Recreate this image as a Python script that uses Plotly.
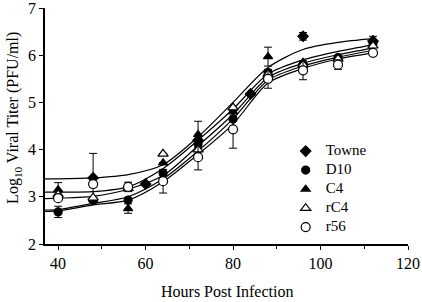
import plotly.graph_objects as go

# ---- data ----
series_names = ["Towne", "D10", "C4", "rC4", "r56"]

towne_t = [48, 60, 72, 84, 96, 112]
towne_y = [3.40, 3.27, 4.20, 5.18, 6.40, 6.30]
towne_e = [0.52, 0.0, 0.0, 0.0, 0.08, 0.0]

d10_t = [40, 48, 56, 64, 72, 80, 88, 96, 104, 112]
d10_y = [2.68, 2.92, 2.93, 3.50, 4.12, 4.65, 5.63, 5.78, 5.95, 6.25]
d10_e = [0.12, 0.0, 0.0, 0.0, 0.0, 0.0, 0.0, 0.0, 0.0, 0.0]

c4_t = [40, 48, 56, 64, 72, 80, 88, 96, 104, 112]
c4_y = [3.15, 2.95, 2.75, 3.72, 4.32, 4.80, 5.97, 5.85, 5.95, 6.32]
c4_e = [0.15, 0.0, 0.10, 0.0, 0.28, 0.0, 0.20, 0.0, 0.0, 0.08]

rc4_t = [40, 48, 56, 64, 72, 80, 88, 96, 104, 112]
rc4_y = [3.05, 2.98, 3.18, 3.91, 4.00, 4.89, 5.60, 5.80, 5.92, 6.20]
rc4_e = [0.0] * 10

r56_t = [40, 48, 56, 64, 72, 80, 88, 96, 104, 112]
r56_y = [2.97, 3.27, 3.21, 3.33, 3.84, 4.43, 5.50, 5.68, 5.80, 6.05]
r56_e = [0.0, 0.0, 0.10, 0.25, 0.27, 0.40, 0.20, 0.20, 0.10, 0.0]

# fitted curves at these hours
curve_t = [37, 40, 48, 56, 64, 72, 80, 88, 96, 104, 112]
curve_a = [3.38, 3.38, 3.40, 3.47, 3.68, 4.27, 5.00, 5.74, 6.12, 6.27, 6.35]
curve_b = [3.10, 3.10, 3.11, 3.21, 3.60, 4.20, 4.86, 5.60, 5.90, 6.08, 6.22]
curve_c = [2.96, 2.97, 3.01, 3.16, 3.45, 4.08, 4.75, 5.53, 5.83, 6.01, 6.15]
curve_d = [2.72, 2.73, 2.86, 3.00, 3.38, 3.97, 4.65, 5.47, 5.77, 5.96, 6.10]
curve_e = [2.69, 2.70, 2.83, 2.93, 3.32, 3.90, 4.54, 5.41, 5.72, 5.92, 6.05]

x_ticks = [40, 60, 80, 100, 120]
y_ticks = [2, 3, 4, 5, 6, 7]

FONT = "Liberation Serif"

fig = go.Figure()

for cy in [curve_a, curve_b, curve_c, curve_d, curve_e]:
    fig.add_trace(go.Scatter(
        x=curve_t, y=cy, mode="lines",
        line=dict(color="black", width=1.2, shape="spline", smoothing=0.8),
        showlegend=False, hoverinfo="skip"))

styles = {
    "Towne": dict(symbol="diamond", size=8, color="black"),
    "D10": dict(symbol="circle", size=8, color="black"),
    "C4": dict(symbol="triangle-up", size=8, color="black"),
    "rC4": dict(symbol="triangle-up", size=9, color="white"),
    "r56": dict(symbol="circle", size=9, color="white"),
}
data = {
    "Towne": (towne_t, towne_y, towne_e),
    "D10": (d10_t, d10_y, d10_e),
    "C4": (c4_t, c4_y, c4_e),
    "rC4": (rc4_t, rc4_y, rc4_e),
    "r56": (r56_t, r56_y, r56_e),
}

for name in series_names:
    t, y, e = data[name]
    st = styles[name]
    fig.add_trace(go.Scatter(
        x=t, y=y, mode="markers",
        name='<span style="font-size:15px">' + name + '</span>',
        marker=dict(symbol=st["symbol"], size=st["size"], color=st["color"],
                    line=dict(color="black", width=1.2)),
        error_y=dict(type="data", array=e, visible=True, color="black",
                     thickness=1, width=4),
    ))

fig.update_layout(
    width=422, height=302,
    margin=dict(l=45, r=14, t=8, b=58),
    paper_bgcolor="white", plot_bgcolor="white",
    font=dict(family=FONT, size=16, color="black"),
    legend=dict(x=0.663, y=0.455, xanchor="left", yanchor="top",
                bgcolor="rgba(0,0,0,0)", borderwidth=0,
                font=dict(family=FONT, size=10.5, color="black"),
                tracegroupgap=0, itemwidth=30),
    showlegend=True,
    annotations=[
        dict(text="Log<sub>10</sub> Viral Titer (PFU/ml)", textangle=-90,
             xref="paper", yref="paper", x=-0.085, y=0.535,
             xanchor="center", yanchor="middle",
             showarrow=False, font=dict(family=FONT, size=16, color="black")),
        dict(text="Hours Post Infection",
             xref="paper", yref="paper", x=0.5, y=-0.2,
             xanchor="center", yanchor="middle",
             showarrow=False, font=dict(family=FONT, size=16, color="black")),
    ],
)

fig.update_xaxes(
    range=[37, 120], tickvals=x_ticks, ticktext=[str(v) for v in x_ticks],
    showgrid=False, zeroline=False, showline=True, linecolor="black",
    linewidth=1.5, ticks="outside", ticklen=4, tickwidth=1, tickcolor="black",
    minor=dict(ticks="outside", ticklen=3, dtick=10, tick0=40, tickcolor="black"),
    tickfont=dict(family=FONT, size=16, color="black"), automargin=False,
    ticklabeloverflow="allow",
)
fig.update_yaxes(
    range=[2, 7], tickvals=y_ticks, ticktext=[str(v) for v in y_ticks],
    showgrid=False, zeroline=False, showline=True, linecolor="black",
    linewidth=1.5, ticks="outside", ticklen=4, tickwidth=1, tickcolor="black",
    tickfont=dict(family=FONT, size=16, color="black"), automargin=False,
    ticklabeloverflow="allow",
)

fig.write_html("out.html")
